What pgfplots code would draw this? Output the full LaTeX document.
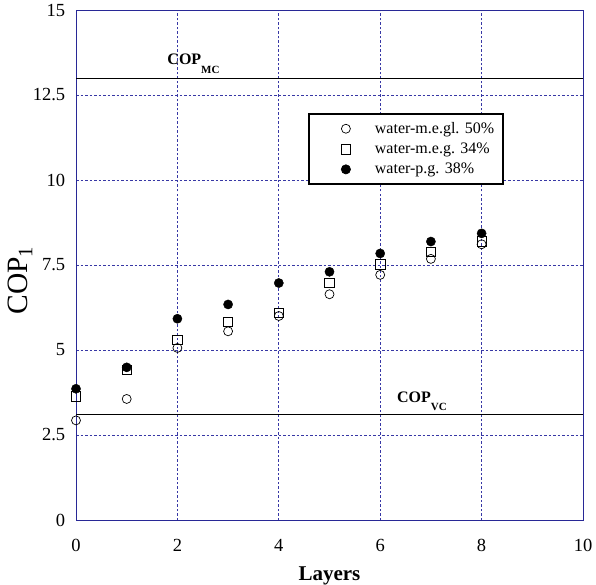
\documentclass[border=0pt]{standalone}
\usepackage{pgfplots}
\pgfplotsset{compat=1.18}
\usepackage{fontspec}
\setmainfont{Liberation Serif}
\definecolor{gridblue}{RGB}{55,55,165}
\definecolor{frameblue}{RGB}{40,40,150}
\begin{document}
\fontsize{17}{20}\selectfont
\begin{tikzpicture}
\begin{axis}[
  scale only axis,
  width=507pt, height=510pt,
  xmin=0, xmax=10, ymin=0, ymax=15,
  xtick={0,2,4,6,8,10},
  ytick={0,2.5,5,7.5,10,12.5,15},
  yticklabels={0,2.5,5,7.5,10,12.5,15},
  /pgf/number format/assume math mode=true,
  major tick length=0pt,
  axis line style={frameblue, line width=0.9pt},
  grid=major,
  major grid style={gridblue, dash pattern=on 2.5pt off 2pt, line width=0.9pt},
  tick label style={font=\fontsize{18.5}{20}\selectfont},
  xticklabel style={anchor=base, yshift=-31pt},
  yticklabel style={anchor=east, xshift=-5pt},
  xlabel={\textbf{Layers}},
  ylabel={COP\textsubscript{1}},
  xlabel style={font=\fontsize{21}{24}\selectfont, at={(axis description cs:0.5,0)}, anchor=base, yshift=-60pt},
  ylabel style={font=\fontsize{29.5}{31}\selectfont, at={(axis description cs:-0.1105,0.47)}, anchor=center},
  legend style={at={(0.4576,0.798)}, anchor=north west, draw=black, line width=1.8pt,
    font=\fontsize{16}{18}\selectfont, row sep=3pt, inner xsep=7pt, inner ysep=6pt,
    /tikz/every even column/.append style={column sep=0pt}},
  legend image code/.code={\path[draw=none,fill=none] (0pt,-1pt) rectangle (57pt,1pt); \draw[line width=0.7pt] plot[only marks] coordinates {(30pt,0pt)};},
  legend cell align=left,
  clip=false,
]
\addplot[only marks, mark=o, mark size=4.5pt, mark options={solid, black, fill=white, line width=0.7pt}] coordinates {
(0,2.93) (1,3.56) (2,5.06) (3,5.55) (4,6.0) (5,6.64) (6,7.21) (7,7.68) (8,8.11)
};
\addlegendentry{water-m.e.gl. 50\%}
\addplot[only marks, mark=square, mark size=4.7pt, mark options={solid, black, fill=white, line width=0.7pt}] coordinates {
(0,3.64) (1,4.42) (2,5.29) (3,5.83) (4,6.09) (5,6.97) (6,7.52) (7,7.89) (8,8.19)
};
\addlegendentry{water-m.e.g. 34\%}
\addplot[only marks, mark=*, mark size=4.6pt, mark options={solid, black, fill=black}] coordinates {
(0,3.86) (1,4.49) (2,5.92) (3,6.34) (4,6.97) (5,7.30) (6,7.84) (7,8.19) (8,8.43)
};
\addlegendentry{water-p.g. 38\%}
\addplot[black, line width=0.8pt, forget plot] coordinates {(0,13) (10,13)};
\addplot[black, line width=0.8pt, forget plot] coordinates {(0,3.1) (10,3.1)};
\node[anchor=base west, inner sep=0pt] at (axis cs:1.80,13.4) {\fontsize{16}{18}\selectfont\bfseries COP\raisebox{-9pt}{\fontsize{11}{11}\selectfont\bfseries MC}};
\node[anchor=base west, inner sep=0pt] at (axis cs:6.33,3.47) {\fontsize{16}{18}\selectfont\bfseries COP\raisebox{-8pt}{\fontsize{11}{11}\selectfont\bfseries VC}};
\end{axis}
\pgfresetboundingbox
\path (-76pt,-64pt) rectangle (520pt,520pt);
\end{tikzpicture}
\end{document}
